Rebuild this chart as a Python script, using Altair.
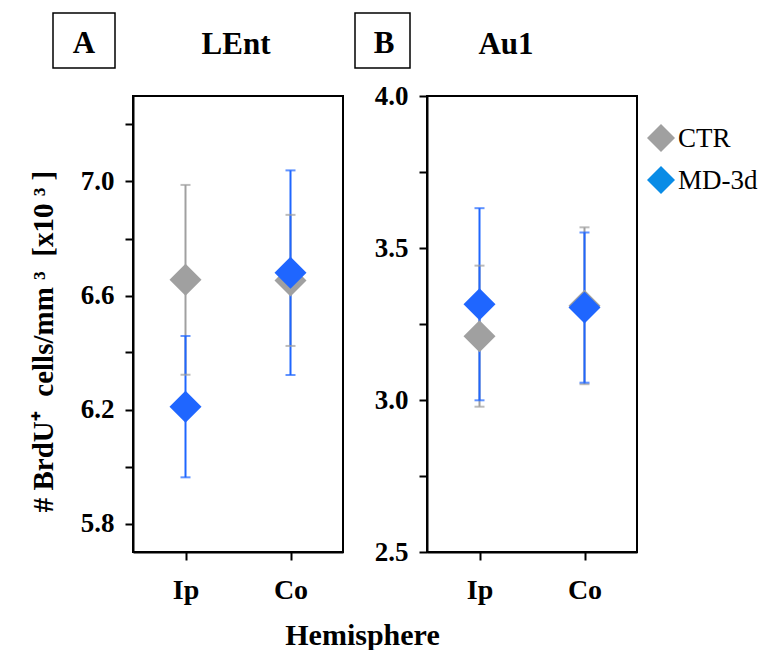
import altair as alt
import pandas as pd

hemispheres = ["Ip", "Co"]
groups = ["CTR", "MD-3d"]

lent_ctr_mean = [6.655, 6.653]
lent_ctr_sem = [0.333, 0.230]
lent_md_mean = [6.210, 6.680]
lent_md_sem = [0.248, 0.359]

au1_ctr_mean = [3.210, 3.310]
au1_ctr_sem = [0.232, 0.258]
au1_md_mean = [3.315, 3.304]
au1_md_sem = [0.316, 0.247]

lent_ticks = [5.8, 6.0, 6.2, 6.4, 6.6, 6.8, 7.0, 7.2]
lent_labels = ["5.8", "6.2", "6.6", "7.0"]
au1_ticks = [2.5, 2.75, 3.0, 3.25, 3.5, 3.75, 4.0]
au1_labels = ["2.5", "3.0", "3.5", "4.0"]

plot_colors = ["#a0a0a0", "#1f66ff"]
legend_colors = ["#a0a0a0", "#0a8ce6"]

FONT = "Liberation Serif"
NB = "\u00a0"
Y_TITLE = "# BrdU\u207a" + NB * 2 + "cells/mm" + NB + "\u00b3" + NB * 2 + "[x10" + NB + "\u00b3" + NB + "]"


def make_df(cm, cs, mm, ms):
    rows = []
    for g, means, sems in (("CTR", cm, cs), ("MD-3d", mm, ms)):
        for h, m, s in zip(hemispheres, means, sems):
            rows.append({"hemisphere": h, "group": g, "mean": m,
                         "lo": m - s, "hi": m + s})
    return pd.DataFrame(rows)


def panel(df, domain, ticks, labels, letter, name, box, letter_x, name_x,
          ytitle, xtitle):
    labels_js = "[" + ",".join("'" + l + "'" for l in labels) + "]"
    x = alt.X("hemisphere:N", sort=hemispheres,
              scale=alt.Scale(type="point", padding=0.5, domain=hemispheres),
              axis=alt.Axis(title=xtitle, labelAngle=0, labelFontSize=28,
                            labelPadding=16, titleFontSize=30,
                            titleX=229, titleY=92, titleBaseline="alphabetic",
                            titleAlign="center") if xtitle else
              alt.Axis(title=None, labelAngle=0, labelFontSize=28, labelPadding=16))
    yaxis_kwargs = dict(
        values=ticks,
        labelExpr=f"indexof({labels_js}, format(datum.value, '.1f')) >= 0 ? format(datum.value, '.1f') : ''",
        labelFontSize=27, labelPadding=11, grid=False,
    )
    if ytitle:
        yaxis_kwargs.update(title=ytitle, titleX=-81, titleY=245, titleAngle=270,
                            titleAlign="center", titleBaseline="alphabetic",
                            titleFontSize=29)
    else:
        yaxis_kwargs.update(title=None)
    yscale = alt.Scale(domain=domain, zero=False, nice=False)
    color = alt.Color("group:N", scale=alt.Scale(domain=groups, range=plot_colors), legend=None)

    base = alt.Chart(df)
    rules = base.mark_rule(strokeWidth=2).encode(
        x=x, y=alt.Y("lo:Q", scale=yscale, axis=alt.Axis(**yaxis_kwargs)), y2="hi:Q", color=color)
    caps_lo = base.mark_tick(size=10, thickness=2, orient="horizontal").encode(
        x=x, y=alt.Y("lo:Q", scale=yscale), color=color)
    caps_hi = base.mark_tick(size=10, thickness=2, orient="horizontal").encode(
        x=x, y=alt.Y("hi:Q", scale=yscale), color=color)
    points = base.mark_point(shape="diamond", filled=True, size=1024, opacity=1).encode(
        x=x, y=alt.Y("mean:Q", scale=yscale), color=color)

    one = pd.DataFrame({"k": [0]})
    boxmark = alt.Chart(one).mark_rect(fill="white", stroke="black", strokeWidth=1.5).encode(
        x=alt.value(box[0]), x2=alt.value(box[1]), y=alt.value(box[2]), y2=alt.value(box[3]))
    letter_t = alt.Chart(one).mark_text(text=letter, font=FONT, fontSize=31, fontWeight="bold",
                                        align="center", baseline="alphabetic", color="black").encode(
        x=alt.value(letter_x), y=alt.value(-43))
    name_t = alt.Chart(one).mark_text(text=name, font=FONT, fontSize=31, fontWeight="bold",
                                      align="center", baseline="alphabetic", color="black").encode(
        x=alt.value(name_x), y=alt.value(-42))

    return alt.layer(rules, caps_lo, caps_hi, points, boxmark, letter_t, name_t).properties(
        width=210, height=456)


dfA = make_df(lent_ctr_mean, lent_ctr_sem, lent_md_mean, lent_md_sem)
dfB = make_df(au1_ctr_mean, au1_ctr_sem, au1_md_mean, au1_md_sem)

pA = panel(dfA, [5.7, 7.3], lent_ticks, lent_labels, "A", "LEnt",
           (-80, -18, -83, -28), -49, 103, Y_TITLE, "Hemisphere")
pB = panel(dfB, [2.5, 4.0], au1_ticks, au1_labels, "B", "Au1",
           (-72, -17, -83, -28), -43, 79, None, None)

# legend drawn as its own small panel
legend_df = pd.DataFrame({"group": groups, "colour": legend_colors})
ly = alt.Y("group:N", sort=groups, scale=alt.Scale(type="point", domain=groups, padding=1), axis=None)
lg_sym = alt.Chart(legend_df).mark_point(shape="diamond", filled=True, size=784, opacity=1).encode(
    x=alt.value(14), y=ly, fill=alt.Fill("colour:N", scale=None))
lg_txt = alt.Chart(legend_df).mark_text(align="left", baseline="middle", font=FONT, fontSize=27,
                                        color="black", dy=1).encode(
    x=alt.value(31), y=ly, text="group:N")
legend_panel = alt.layer(lg_sym, lg_txt).properties(
    width=100, height=126, view=alt.ViewBackground(stroke="transparent"))

right = alt.hconcat(pB, legend_panel, spacing=10, bounds="flush")

chart = alt.hconcat(pA, right, spacing=84, bounds="flush").properties(
    autosize=alt.AutoSizeParams(type="none"),
    padding={"left": 133, "top": 96, "right": 625, "bottom": 554},
).configure_view(stroke="black", strokeWidth=2).configure_axis(
    domainColor="black", domainWidth=2, tickColor="black", tickWidth=2, tickSize=8,
    labelFont=FONT, labelFontWeight="bold", labelColor="black",
    titleFont=FONT, titleFontWeight="bold", titleColor="black",
)

chart.save("out.html", embed_options={"renderer": "svg", "actions": False})
